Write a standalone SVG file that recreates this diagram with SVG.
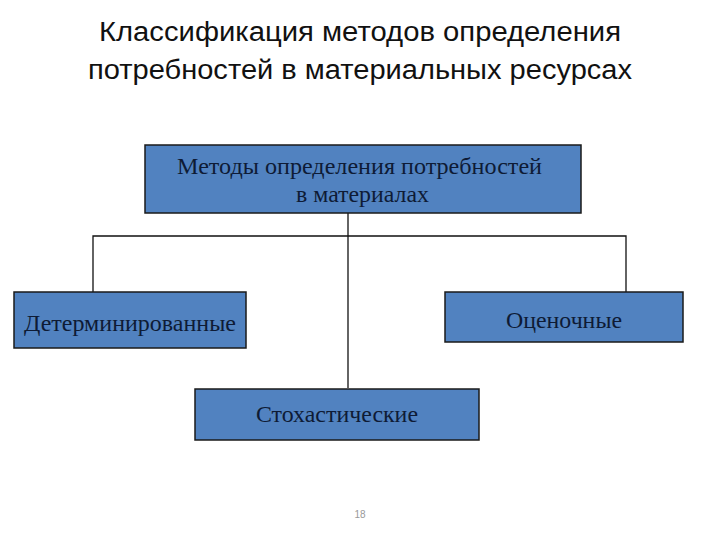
<svg xmlns="http://www.w3.org/2000/svg" width="720" height="540" viewBox="0 0 720 540">
<style>
.box{fill:#5182c0;stroke:#1a1a1a;stroke-width:1.5}
.bt{font-family:"Liberation Serif","DejaVu Serif",serif;font-size:23px;fill:#0e1b35;text-anchor:middle}
.title{font-family:"Liberation Sans","DejaVu Sans",sans-serif;font-size:27px;fill:#111;text-anchor:middle}
.conn{fill:none;stroke:#111;stroke-width:1.3}
</style>
<rect width="720" height="540" fill="#fff"/>
<g id="title">
<text class="title" x="360" y="41" textLength="522" lengthAdjust="spacingAndGlyphs">Классификация методов определения</text>
<text class="title" x="360" y="79" textLength="544" lengthAdjust="spacingAndGlyphs">потребностей в материальных ресурсах</text>
</g>
<g id="connectors">
<path class="conn" d="M348,213 V388"/>
<path class="conn" d="M93,292 V236 H626 V292"/>
</g>
<g id="root">
<rect class="box" x="145" y="145" width="436" height="68"/>
<text class="bt" x="359.5" y="174" textLength="365" lengthAdjust="spacingAndGlyphs">Методы определения потребностей</text>
<text class="bt" x="362.5" y="202" textLength="133" lengthAdjust="spacingAndGlyphs">в материалах</text>
</g>
<g id="det">
<rect class="box" x="14" y="292" width="232" height="56"/>
<text class="bt" x="130" y="331" textLength="212" lengthAdjust="spacingAndGlyphs">Детерминированные</text>
</g>
<g id="ocen">
<rect class="box" x="445" y="292" width="238" height="50"/>
<text class="bt" x="564" y="328" textLength="116" lengthAdjust="spacingAndGlyphs">Оценочные</text>
</g>
<g id="stoch">
<rect class="box" x="195" y="389" width="284" height="51"/>
<text class="bt" x="337" y="422" textLength="162" lengthAdjust="spacingAndGlyphs">Стохастические</text>
</g>
<text x="360" y="518" font-family="Liberation Sans,sans-serif" font-size="10" fill="#999" text-anchor="middle">18</text>
</svg>
